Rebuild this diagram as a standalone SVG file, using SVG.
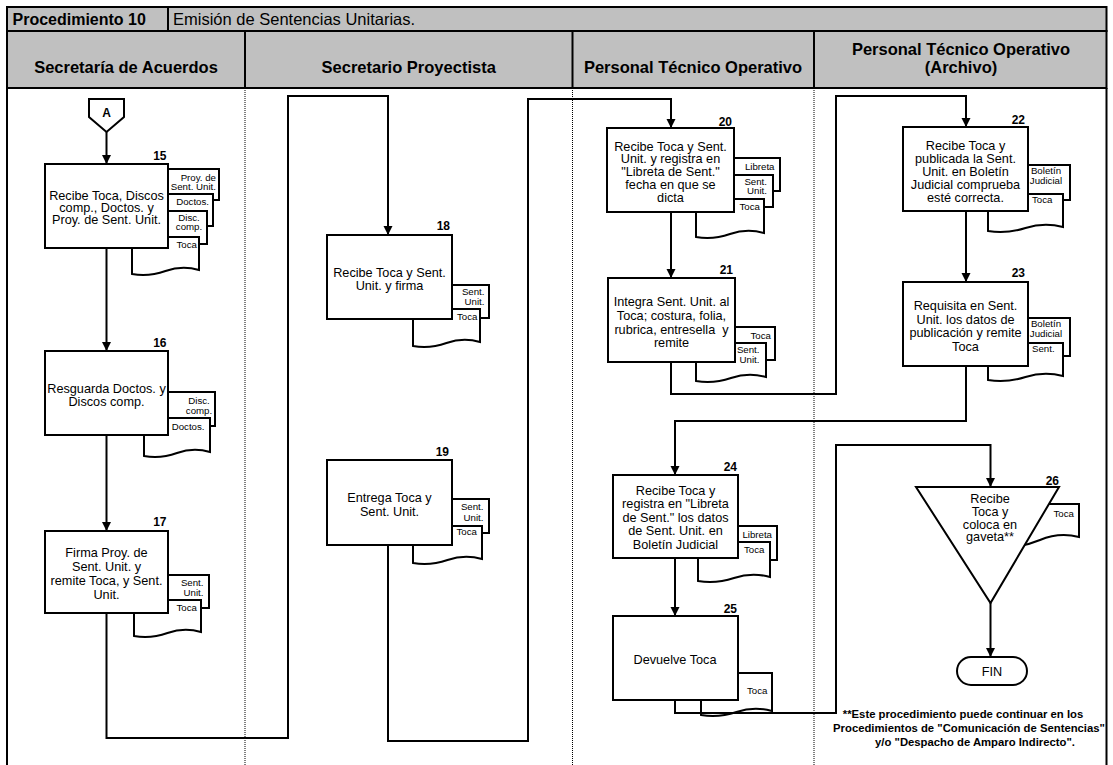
<svg xmlns="http://www.w3.org/2000/svg" width="1113" height="765" viewBox="0 0 1113 765">
  <defs>
    <marker id="arrow" markerUnits="userSpaceOnUse" viewBox="0 0 10 10" markerWidth="9" markerHeight="10" refX="10" refY="5" orient="auto">
      <path d="M0,0 L10,5 L0,10 z" fill="#000"/>
    </marker>
    <style>
      text { font-family: "Liberation Sans", Arial, sans-serif; fill: #000; }
      .band { fill: #c0c0c0; stroke: #000; stroke-width: 2; }
      .sep { stroke: #000; stroke-width: 2; }
      .lane { stroke: #000; stroke-width: 1; stroke-dasharray: 1 1; }
      .hdr { font-size: 16.5px; font-weight: bold; text-anchor: middle; }
      .box { fill: #fff; stroke: #000; stroke-width: 2; }
      .doc { fill: #fff; stroke: #000; stroke-width: 2; }
      .t { font-size: 12.7px; text-anchor: middle; }
      .dl { font-size: 9.7px; }
      .e { text-anchor: end; }
      .m { text-anchor: middle; }
      .num { font-size: 12px; font-weight: bold; text-anchor: end; }
      .wire { fill: none; stroke: #000; stroke-width: 2; }
      .note { font-size: 11.3px; font-weight: bold; text-anchor: middle; }
    </style>
  </defs>

  <rect width="1113" height="765" fill="#fff"/>

  <!-- title bar and lane headers -->
  <g id="header">
    <rect class="band" x="7" y="7" width="1099.5" height="24"/>
    <rect class="band" x="7" y="31" width="1099.5" height="57"/>
    <line class="sep" x1="168" y1="7" x2="168" y2="31"/>
    <line class="sep" x1="245" y1="31" x2="245" y2="88"/>
    <line class="sep" x1="572.5" y1="31" x2="572.5" y2="88"/>
    <line class="sep" x1="814" y1="31" x2="814" y2="88"/>
    <text x="12.5" y="24.5" font-size="16px" font-weight="bold">Procedimiento 10</text>
    <text x="173" y="24.5" font-size="16.5px">Emisión de Sentencias Unitarias.</text>
    <text class="hdr" x="126" y="72.5">Secretaría de Acuerdos</text>
    <text class="hdr" x="408.7" y="72.5">Secretario Proyectista</text>
    <text class="hdr" x="693" y="72.5">Personal Técnico Operativo</text>
    <text class="hdr" x="961" y="54.5">Personal Técnico Operativo</text>
    <text class="hdr" x="961" y="72.5">(Archivo)</text>
  </g>

  <!-- swimlane borders -->
  <g id="lanes">
    <line class="sep" x1="7" y1="88" x2="7" y2="765"/>
    <line class="sep" x1="1106.5" y1="88" x2="1106.5" y2="765"/>
    <line class="lane" x1="245" y1="88" x2="245" y2="765"/>
    <line class="lane" x1="572.5" y1="88" x2="572.5" y2="765"/>
    <line class="lane" x1="814" y1="88" x2="814" y2="765"/>
  </g>

  <!-- off-page connector A -->
  <g id="node-A">
    <polygon class="box" points="89,99 124,99 124,117 106.5,132 89,117"/>
    <text x="106.5" y="117" font-size="12px" font-weight="bold" text-anchor="middle">A</text>
  </g>

  <!-- 15 -->
  <g id="node-15">
    <rect class="doc" x="150" y="169" width="69" height="31"/>
    <rect class="doc" x="150" y="194" width="63" height="32"/>
    <rect class="doc" x="150" y="211" width="57" height="33"/>
    <path class="doc" d="M132,237 H199 V270 Q182.3,265 165.5,271 T132,274 Z"/>
    <rect class="box" x="45" y="164" width="123" height="84"/>
    <text class="dl e" x="216" y="180.5">Proy. de</text>
    <text class="dl e" x="216" y="190">Sent. Unit.</text>
    <text class="dl e" x="209" y="205">Doctos.</text>
    <text class="dl m" x="189" y="221">Disc.</text>
    <text class="dl m" x="189" y="230">comp.</text>
    <text class="dl e" x="197" y="247.5">Toca</text>
    <text class="t" x="106.5"><tspan x="106.5" y="200">Recibe Toca, Discos</tspan><tspan x="106.5" y="212">comp., Doctos. y</tspan><tspan x="106.5" y="224">Proy. de Sent. Unit.</tspan></text>
    <text class="num" x="166.5" y="160">15</text>
  </g>

  <!-- 16 -->
  <g id="node-16">
    <rect class="doc" x="150" y="392" width="65" height="34"/>
    <path class="doc" d="M144,418 H210 V452 Q193.5,447 177,453 T144,456 Z"/>
    <rect class="box" x="45" y="351" width="123" height="84"/>
    <text class="dl m" x="199" y="403.5">Disc.</text>
    <text class="dl m" x="199" y="413.5">comp.</text>
    <text class="dl e" x="204.5" y="429.5">Doctos.</text>
    <text class="t"><tspan x="106.5" y="392.5">Resguarda Doctos. y</tspan><tspan x="106.5" y="405.5">Discos comp.</tspan></text>
    <text class="num" x="166.5" y="346.5">16</text>
  </g>

  <!-- 17 -->
  <g id="node-17">
    <rect class="doc" x="150" y="575" width="59" height="33"/>
    <path class="doc" d="M134,600 H201 V632 Q184.3,627 167.5,633 T134,636 Z"/>
    <rect class="box" x="45" y="531" width="123" height="82"/>
    <text class="dl e" x="203.5" y="586">Sent.</text>
    <text class="dl e" x="203.5" y="596">Unit.</text>
    <text class="dl e" x="197" y="611">Toca</text>
    <text class="t"><tspan x="106.5" y="557">Firma Proy. de</tspan><tspan x="106.5" y="571">Sent. Unit. y</tspan><tspan x="106.5" y="585">remite Toca, y Sent.</tspan><tspan x="106.5" y="599">Unit.</tspan></text>
    <text class="num" x="166.5" y="526">17</text>
  </g>

  <!-- 18 -->
  <g id="node-18">
    <rect class="doc" x="430" y="285" width="59" height="33"/>
    <path class="doc" d="M413,309 H480 V342 Q463.3,337 446.5,343 T413,346 Z"/>
    <rect class="box" x="327" y="235" width="125" height="84"/>
    <text class="dl e" x="484.5" y="294.5">Sent.</text>
    <text class="dl e" x="484.5" y="304.5">Unit.</text>
    <text class="dl e" x="477.5" y="320">Toca</text>
    <text class="t"><tspan x="389.5" y="277">Recibe Toca y Sent.</tspan><tspan x="389.5" y="289.5">Unit. y firma</tspan></text>
    <text class="num" x="450" y="230">18</text>
  </g>

  <!-- 19 -->
  <g id="node-19">
    <rect class="doc" x="430" y="499" width="59" height="34"/>
    <path class="doc" d="M413,526 H482 V559 Q464.8,554 447.5,560 T413,563 Z"/>
    <rect class="box" x="327" y="460" width="125" height="85"/>
    <text class="dl e" x="483.5" y="510">Sent.</text>
    <text class="dl e" x="483.5" y="520.5">Unit.</text>
    <text class="dl e" x="477" y="535">Toca</text>
    <text class="t"><tspan x="389.5" y="502">Entrega Toca y</tspan><tspan x="389.5" y="515.5">Sent. Unit.</tspan></text>
    <text class="num" x="449" y="456">19</text>
  </g>

  <!-- 20 -->
  <g id="node-20">
    <rect class="doc" x="715" y="158" width="65" height="33"/>
    <rect class="doc" x="715" y="175" width="58" height="32"/>
    <path class="doc" d="M696,199 H764 V233 Q747,228 730,234 T696,237 Z"/>
    <rect class="box" x="607" y="128" width="127" height="84"/>
    <text class="dl e" x="774.5" y="169.5">Libreta</text>
    <text class="dl e" x="767" y="184.5">Sent.</text>
    <text class="dl e" x="767" y="194">Unit.</text>
    <text class="dl e" x="760" y="209.5">Toca</text>
    <text class="t"><tspan x="670.5" y="150.5">Recibe Toca y Sent.</tspan><tspan x="670.5" y="163">Unit. y registra en</tspan><tspan x="670.5" y="175.5">"Libreta de Sent."</tspan><tspan x="670.5" y="188.5">fecha en que se</tspan><tspan x="670.5" y="201.5">dicta</tspan></text>
    <text class="num" x="732" y="125.5">20</text>
  </g>

  <!-- 21 -->
  <g id="node-21">
    <rect class="doc" x="715" y="327" width="60" height="33"/>
    <path class="doc" d="M696,343 H766 V377 Q748.5,372 731,378 T696,381 Z"/>
    <rect class="box" x="608" y="278" width="127" height="84"/>
    <text class="dl e" x="771" y="338.5">Toca</text>
    <text class="dl e" x="759.5" y="352.5">Sent.</text>
    <text class="dl e" x="759.5" y="362.5">Unit.</text>
    <text class="t" xml:space="preserve"><tspan x="671.5" y="306">Integra Sent. Unit. al</tspan><tspan x="671.5" y="319.5">Toca; costura, folia,</tspan><tspan x="671.5" y="333.5">rubrica, entresella  y</tspan><tspan x="671.5" y="347">remite</tspan></text>
    <text class="num" x="733" y="274">21</text>
  </g>

  <!-- 22 -->
  <g id="node-22">
    <rect class="doc" x="1010" y="165" width="60" height="35"/>
    <path class="doc" d="M988,194 H1063 V227 Q1044.3,222 1025.5,228 T988,231 Z"/>
    <text class="dl m" x="1046" y="174">Boletín</text>
    <text class="dl m" x="1046" y="183.5">Judicial</text>
    <rect class="box" x="903" y="127" width="125" height="84"/>
    <text class="dl" x="1032" y="202.5">Toca</text>
    <text class="t"><tspan x="965.5" y="149.5">Recibe Toca y</tspan><tspan x="965.5" y="162.5">publicada la Sent.</tspan><tspan x="965.5" y="175.5">Unit. en Boletín</tspan><tspan x="965.5" y="189">Judicial comprueba</tspan><tspan x="965.5" y="202">esté correcta.</tspan></text>
    <text class="num" x="1025" y="123.5">22</text>
  </g>

  <!-- 23 -->
  <g id="node-23">
    <rect class="doc" x="1010" y="318" width="60" height="38"/>
    <path class="doc" d="M988,343 H1063 V376 Q1044.3,371 1025.5,377 T988,380 Z"/>
    <text class="dl m" x="1046" y="327">Boletín</text>
    <text class="dl m" x="1046" y="336.5">Judicial</text>
    <rect class="box" x="903" y="282" width="125" height="84"/>
    <text class="dl" x="1032" y="352">Sent.</text>
    <text class="t"><tspan x="965.5" y="309.5">Requisita en Sent.</tspan><tspan x="965.5" y="323.5">Unit. los datos de</tspan><tspan x="965.5" y="337">publicación y remite</tspan><tspan x="965.5" y="350.5">Toca</tspan></text>
    <text class="num" x="1025" y="277">23</text>
  </g>

  <!-- 24 -->
  <g id="node-24">
    <rect class="doc" x="720" y="526" width="57" height="34"/>
    <path class="doc" d="M698,542 H770 V577 Q752,572 734,578 T698,581 Z"/>
    <rect class="box" x="613" y="475" width="125" height="83"/>
    <text class="dl e" x="772" y="538">Libreta</text>
    <text class="dl e" x="764.5" y="553">Toca</text>
    <text class="t"><tspan x="675.5" y="495">Recibe Toca y</tspan><tspan x="675.5" y="508">registra en "Libreta</tspan><tspan x="675.5" y="521.5">de Sent." los datos</tspan><tspan x="675.5" y="535">de Sent. Unit. en</tspan><tspan x="675.5" y="548.5">Boletín Judicial</tspan></text>
    <text class="num" x="737" y="471">24</text>
  </g>

  <!-- 25 -->
  <g id="node-25">
    <path class="doc" d="M701,673 H772 V711 Q754.3,706 736.5,712 T701,715 Z"/>
    <rect class="box" x="613" y="616" width="125" height="84"/>
    <text class="dl e" x="767.5" y="693.5">Toca</text>
    <text class="t" x="675" y="664">Devuelve Toca</text>
    <text class="num" x="737" y="612.5">25</text>
  </g>

  <!-- 26: archive -->
  <g id="node-26">
    <path class="doc" d="M1000,504 H1079 V537 Q1059,532 1040,540 T1000,548 Z"/>
    <polygon class="box" points="916,487 1059,487 990.5,603"/>
    <text class="dl e" x="1074" y="516.5">Toca</text>
    <text class="t"><tspan x="990" y="503">Recibe</tspan><tspan x="990" y="516">Toca y</tspan><tspan x="990" y="529">coloca en</tspan><tspan x="990" y="541">gaveta**</tspan></text>
    <text class="num" x="1059" y="485">26</text>
  </g>

  <!-- end terminator -->
  <g id="node-FIN">
    <rect class="box" x="957" y="657" width="70" height="28" rx="14" ry="14"/>
    <text class="t" x="992" y="675.5">FIN</text>
  </g>

  <!-- flow lines -->
  <g id="connectors">
    <path class="wire" marker-end="url(#arrow)" d="M106.5,132 V164"/>
    <path class="wire" marker-end="url(#arrow)" d="M106.5,248 V351"/>
    <path class="wire" marker-end="url(#arrow)" d="M106.5,435 V531"/>
    <path class="wire" marker-end="url(#arrow)" d="M106.5,613 V738 H288 V96 H388 V235"/>
    <path class="wire" marker-end="url(#arrow)" d="M388,545 V741 H528 V99 H671 V128"/>
    <path class="wire" marker-end="url(#arrow)" d="M671,212 V278"/>
    <path class="wire" marker-end="url(#arrow)" d="M671,362 V394 H836 V96 H966 V127"/>
    <path class="wire" marker-end="url(#arrow)" d="M966,211 V282"/>
    <path class="wire" marker-end="url(#arrow)" d="M966,366 V421 H675 V475"/>
    <path class="wire" marker-end="url(#arrow)" d="M675,558 V616"/>
    <path class="wire" marker-end="url(#arrow)" d="M675,700 V713 H836 V445 H990.5 V487"/>
    <path class="wire" marker-end="url(#arrow)" d="M990.5,603 V657"/>
  </g>

  <!-- footnote -->
  <g id="footnote">
    <text class="note" x="963" y="718">**Este procedimiento puede continuar en los</text>
    <text class="note" x="969" y="732">Procedimientos de "Comunicación de Sentencias"</text>
    <text class="note" x="975" y="746">y/o "Despacho de Amparo Indirecto".</text>
  </g>
</svg>
